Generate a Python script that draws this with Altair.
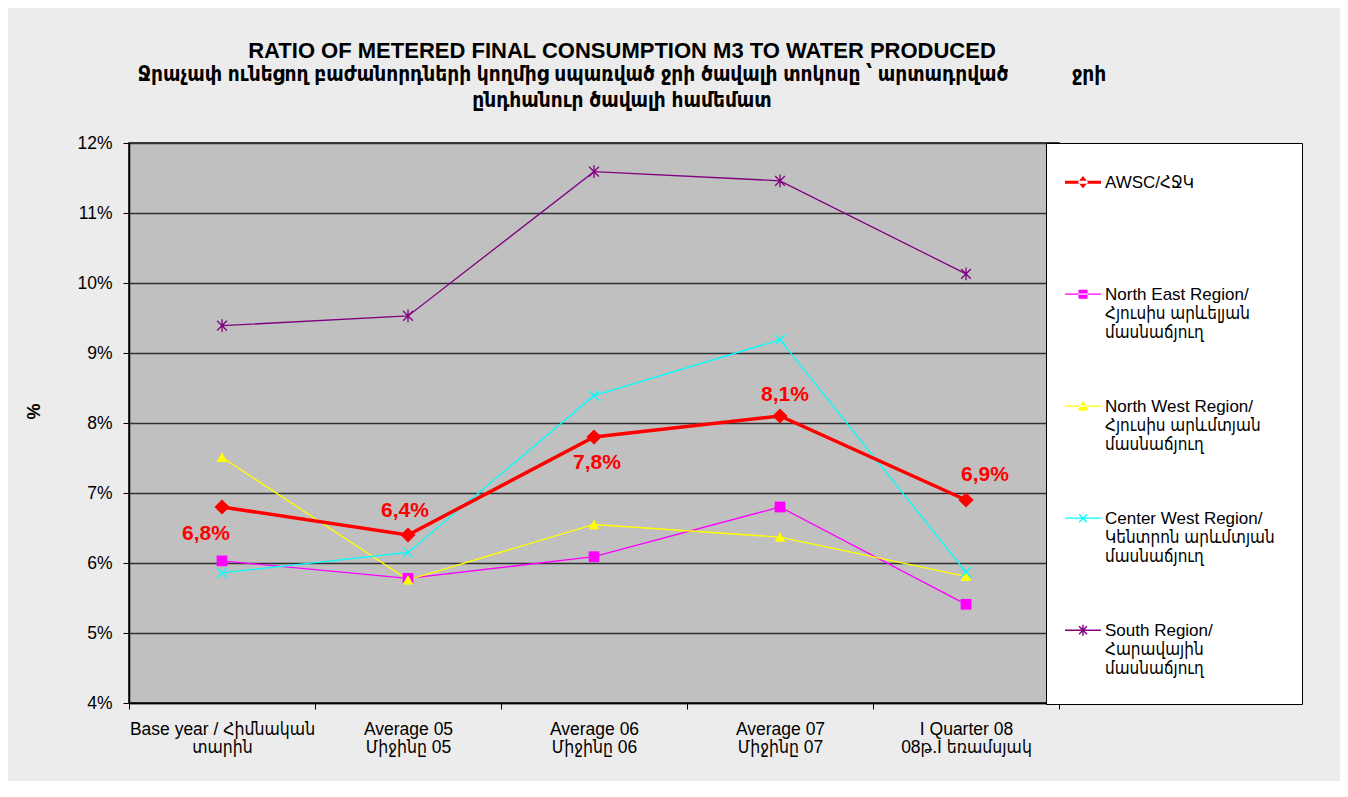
import math
import altair as alt
import pandas as pd

# ---------------- data ----------------
categories = [
    "Base year / Հիմնական|տարին",
    "Average 05|Միջինը 05",
    "Average 06|Միջինը 06",
    "Average 07|Միջինը 07",
    "I Quarter 08|08թ.I եռամսյակ",
]
series_names = [
    "AWSC/ՀՋԿ|\u00a0|\u00a0",
    "North East Region/|Հյուսիս արևելյան|\u00a0մասնաճյուղ",
    "North West Region/|Հյուսիս արևմտյան|մասնաճյուղ",
    "Center West Region/|Կենտրոն արևմտյան|մասնաճյուղ",
    "South Region/|Հարավային|մասնաճյուղ",
]
awsc = [6.8, 6.4, 7.8, 8.1, 6.9]
north_east = [6.03, 5.78, 6.09, 6.80, 5.41]
north_west = [7.51, 5.76, 6.55, 6.37, 5.81]
center_west = [5.86, 6.15, 8.39, 9.19, 5.87]
south = [9.39, 9.53, 11.59, 11.46, 10.13]
awsc_labels = ["6,8%", "6,4%", "7,8%", "8,1%", "6,9%"]

series_values = [awsc, north_east, north_west, center_west, south]
colors = ["#ff0000", "#ff00ff", "#ffff00", "#00ffff", "#800080"]

rows = []
# AWSC rows last so its thick line is drawn on top
for name, vals in list(zip(series_names, series_values))[1:] + [(series_names[0], awsc)]:
    for i, (c, v) in enumerate(zip(categories, vals)):
        rows.append({"series": name, "category": c, "value": v, "idx": i})
df = pd.DataFrame(rows)

lab_rows = [{"series": series_names[0], "category": c, "value": v, "label": l, "idx": i}
            for i, (c, v, l) in enumerate(zip(categories, awsc, awsc_labels))]
df_lab = pd.DataFrame(lab_rows)

# ---------------- styles ----------------
FONT = "Liberation Sans, DejaVu Sans Condensed, DejaVu Sans"
NARROW = "Liberation Sans Narrow, Liberation Sans, DejaVu Sans Condensed, DejaVu Sans"


def seg(x1, y1, x2, y2, t):
    dx, dy = x2 - x1, y2 - y1
    L = math.hypot(dx, dy)
    nx, ny = -dy / L * t, dx / L * t
    pts = [(x1 + nx, y1 + ny), (x2 + nx, y2 + ny), (x2 - nx, y2 - ny), (x1 - nx, y1 - ny)]
    return "M" + "L".join(f"{a:.3f},{b:.3f}" for a, b in pts) + "Z"


def poly(pts):
    return "M" + "L".join(f"{a:.3f},{b:.3f}" for a, b in pts) + "Z"


OY = -0.32  # shift legend symbols up to the first label line


def legend_path(kind, t):
    p = seg(-1, OY, 1, OY, t)
    if kind == "diamond":
        p += poly([(-0.28, OY), (0, OY - 0.34), (0.28, OY), (0, OY + 0.34)])
    elif kind == "square":
        p += poly([(-0.25, OY - 0.25), (0.25, OY - 0.25), (0.25, OY + 0.25), (-0.25, OY + 0.25)])
    elif kind == "triangle":
        p += poly([(-0.3, OY + 0.24), (0, OY - 0.3), (0.3, OY + 0.24)])
    elif kind == "x":
        p += seg(-0.22, OY - 0.22, 0.22, OY + 0.22, 0.035) + seg(-0.22, OY + 0.22, 0.22, OY - 0.22, 0.035)
    elif kind == "star":
        p += seg(-0.22, OY - 0.22, 0.22, OY + 0.22, 0.04) + seg(-0.22, OY + 0.22, 0.22, OY - 0.22, 0.04)
        p += seg(0, OY - 0.3, 0, OY + 0.3, 0.04)
    return p


legend_shapes = [
    legend_path("diamond", 0.08),
    legend_path("square", 0.035),
    legend_path("triangle", 0.035),
    legend_path("x", 0.035),
    legend_path("star", 0.04),
]

X_PATH = "M-1,-1L1,1M-1,1L1,-1"
STAR_PATH = "M-1,-1L1,1M-1,1L1,-1M0,-1.3L0,1.3"
marker_specs = [
    dict(shape="diamond", size=230, filled=True),
    dict(shape="square", size=115, filled=True),
    dict(shape="triangle-up", size=120, filled=True),
    dict(shape=X_PATH, size=95, filled=False, strokeWidth=1.3),
    dict(shape=STAR_PATH, size=95, filled=False, strokeWidth=1.3),
]
label_offsets = [(-16, 27), (-3, -24), (3, 26), (5, -21), (19, -25)]

color_scale = alt.Scale(domain=series_names, range=colors)
x_enc = alt.X(
    "category:N",
    sort=categories,
    scale=alt.Scale(type="band", domain=categories, paddingInner=0, paddingOuter=0),
    axis=alt.Axis(
        title=None,
        labelExpr="split(datum.label, '|')",
        labelAngle=0,
        labelFont=FONT,
        labelFontSize=17.5,
        labelColor="#000000",
        labelLineHeight=18,
        labelPadding=11,
        labelLimit=400,
        labelOverlap=False,
        tickBand="extent",
        tickSize=6,
        tickColor="#000000",
        domainColor="#000000",
        domainWidth=1.5,
        grid=False,
    ),
)
y_enc = alt.Y(
    "value:Q",
    scale=alt.Scale(domain=[4, 12], nice=False, zero=False),
    axis=alt.Axis(
        title="%",
        titleFont=FONT,
        titleFontSize=18,
        titleFontWeight="bold",
        titleColor="#000000",
        titleX=-86,
        titleY=268,
        titleAngle=-90,
        values=[4, 5, 6, 7, 8, 9, 10, 11, 12],
        labelExpr="datum.value + '%'",
        labelFont=FONT,
        labelFontSize=17.5,
        labelColor="#000000",
        labelPadding=11,
        tickSize=6,
        tickColor="#000000",
        domainColor="#000000",
        domainWidth=1.5,
        grid=True,
        gridColor="#303030",
        gridWidth=1.6,
    ),
)

base = alt.Chart(df)

lines = base.mark_line().encode(
    x=x_enc,
    y=y_enc,
    color=alt.Color("series:N", scale=color_scale, legend=None),
    strokeWidth=alt.condition(alt.datum.series == series_names[0], alt.value(3.5), alt.value(1.3)),
    detail="series:N",
)

layers = [lines]
for name, spec in zip(series_names, marker_specs):
    layers.append(
        base.transform_filter(alt.datum.series == name)
        .mark_point(opacity=1, **spec)
        .encode(x=x_enc, y=y_enc, color=alt.Color("series:N", scale=color_scale, legend=None))
    )

for i, (dx, dy) in enumerate(label_offsets):
    layers.append(
        alt.Chart(df_lab)
        .transform_filter(alt.datum.idx == i)
        .mark_text(font=FONT, fontSize=21, fontWeight="bold", color="#ff0000", dx=dx, dy=dy)
        .encode(x=x_enc, y=y_enc, text="label:N")
    )

legend = alt.Legend(
    title=None,
    orient="none",
    legendX=917,
    legendY=0,
    direction="vertical",
    labelExpr="split(datum.label, '|')",
    labelFont=FONT,
    labelFontSize=17,
    labelColor="#000000",
    labelBaseline="alphabetic",
    labelLimit=300,
    symbolSize=1296,
    symbolStrokeWidth=0,
    symbolOpacity=1,
    symbolOffset=-8,
    rowPadding=53,
    padding=27,
    fillColor="#ffffff",
    strokeColor="#000000",
    offset=0,
)
legend_layer = base.mark_point(filled=True, opacity=0).encode(
    x=x_enc,
    y=y_enc,
    color=alt.Color("series:N", scale=color_scale, legend=legend),
    shape=alt.Shape("series:N", scale=alt.Scale(domain=series_names, range=legend_shapes), legend=legend),
)
layers.insert(0, legend_layer)

GAP = "\u00a0" * 11

chart = (
    alt.layer(*layers)
    .properties(
        width=930,
        height=560,
        autosize=alt.AutoSizeParams(type="none"),
        padding={"left": 121, "top": 135, "right": 281, "bottom": 78},
        background="#ececec",
        title=alt.TitleParams(
            text="RATIO OF METERED FINAL CONSUMPTION M3 TO WATER PRODUCED",
            subtitle=[
                "Ջրաչափ ունեցող բաժանորդների կողմից սպառված ջրի ծավալի տոկոսը ՝ արտադրված" + GAP + "ջրի",
                "ընդհանուր ծավալի համեմատ",
            ],
            font=NARROW,
            fontSize=22,
            fontWeight="bold",
            color="#000000",
            subtitleFont=NARROW,
            subtitleFontSize=20.7,
            subtitleFontWeight="bold",
            subtitleColor="#000000",
            subtitleLineHeight=26,
            subtitlePadding=2,
            anchor="middle",
            frame="group",
            dx=28,
            offset=22,
        ),
    )
    .configure_view(fill="#c0c0c0", stroke="#000000", strokeWidth=1.5)
)

chart.save("out.html", embed_options={"renderer": "svg", "actions": False})
